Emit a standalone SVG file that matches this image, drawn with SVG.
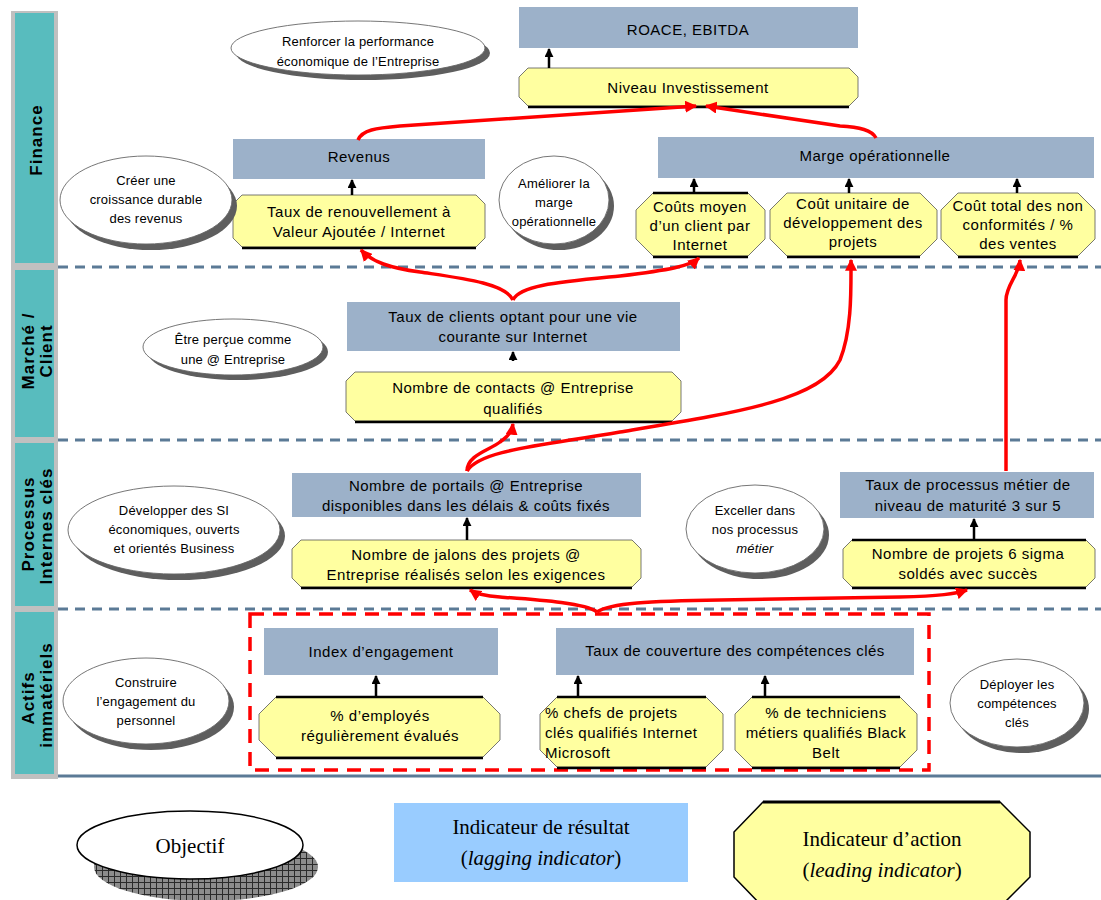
<svg xmlns="http://www.w3.org/2000/svg" width="1101" height="900" viewBox="0 0 1101 900">
<style>
.band{fill:#58bcbe}
.bl{font-family:"Liberation Sans",Arial,sans-serif;font-weight:bold;font-size:17px;letter-spacing:1px;fill:#000;text-anchor:middle}
.res{fill:#9cb1c9}
.oct{fill:#ffffa0;stroke:#555;stroke-width:0.8}
.octb{stroke:#000;stroke-width:2.5;fill:none}
.t{font-family:"Liberation Sans",Arial,sans-serif;font-size:15px;letter-spacing:0.5px;fill:#000;text-anchor:middle}
.ts{font-family:"Liberation Sans",Arial,sans-serif;font-size:15px;letter-spacing:0.5px;fill:#000;text-anchor:start}
.te{font-family:"Liberation Sans",Arial,sans-serif;font-size:13px;letter-spacing:0.2px;fill:#000;text-anchor:middle}
.esh{fill:#5e5e5e}
.ell{fill:#fff;stroke:#666;stroke-width:0.9}
.sep{stroke:#5b7a96;stroke-width:3;stroke-dasharray:10 7;fill:none}
.red{stroke:#ff0000;stroke-width:3.5;fill:none;marker-end:url(#ra)}
.blk{stroke:#000;stroke-width:2.5;fill:none;marker-end:url(#ba)}
.lg{font-family:"Liberation Serif","Times New Roman",serif;font-size:21px;fill:#000;text-anchor:middle}
</style>
<defs>
<marker id="ra" viewBox="0 0 10 10" refX="9" refY="5" markerWidth="12" markerHeight="12" markerUnits="userSpaceOnUse" orient="auto">
<path d="M0,0 L10,5 L0,10 z" fill="#ff0000"/>
</marker>
<marker id="ba" viewBox="0 0 10 10" refX="9" refY="5" markerWidth="9" markerHeight="9" markerUnits="userSpaceOnUse" orient="auto">
<path d="M0,0 L10,5 L0,10 z" fill="#000"/>
</marker>
<pattern id="hatch" width="6" height="6" patternUnits="userSpaceOnUse">
<rect width="6" height="6" fill="#8c8c8c"/>
<path d="M0,0.5 H6 M0.5,0 V6" stroke="#2a2a2a" stroke-width="1"/>
</pattern>
</defs>
<rect width="1101" height="900" fill="#fff"/>

<g id="bands">
<rect x="11" y="11" width="47" height="768" fill="#c0c0c0"/>
<rect class="band" x="15" y="13" width="39" height="250"/>
<rect class="band" x="15" y="270" width="39" height="167"/>
<rect class="band" x="15" y="443" width="39" height="163"/>
<rect class="band" x="15" y="612" width="39" height="162"/>
<text class="bl" transform="translate(42,140) rotate(-90)">Finance</text>
<text class="bl" transform="translate(34,351) rotate(-90)">Marché /</text>
<text class="bl" transform="translate(52,351) rotate(-90)">Client</text>
<text class="bl" transform="translate(34,524) rotate(-90)">Processus</text>
<text class="bl" transform="translate(52,526) rotate(-90)">Internes clés</text>
<text class="bl" transform="translate(34,698) rotate(-90)">Actifs</text>
<text class="bl" transform="translate(52,695) rotate(-90)">immatériels</text>
</g>

<g id="separators">
<path class="sep" d="M58,267 H1101"/>
<path class="sep" d="M58,440 H1101"/>
<path class="sep" d="M58,609 H1101"/>
<path d="M58,776 H1101" stroke="#5b7a96" stroke-width="3"/>
</g>

<g id="roace"><rect class="res" x="519" y="7" width="339" height="41"/><text class="t" x="688" y="35">ROACE, EBITDA</text></g>
<g id="niveau"><polygon class="oct" points="528,68 849,68 858,77 858,97 849,106 528,106 519,97 519,77"/><path class="octb" d="M528,107 H849"/><text class="t" x="688" y="93">Niveau Investissement</text></g>
<g id="obj-renforcer"><ellipse class="esh" cx="363" cy="53" rx="127" ry="27"/><ellipse class="ell" cx="358" cy="48" rx="127" ry="27"/><text class="te" x="358" y="46">Renforcer la performance</text><text class="te" x="358" y="66">économique de l’Entreprise</text></g>

<g id="revenus"><rect class="res" x="233" y="139" width="252" height="40"/><text class="t" x="359" y="162">Revenus</text></g>
<g id="taux-renouv"><polygon class="oct" points="242,195 476,195 485,204 485,238 476,247 242,247 233,238 233,204"/><path class="octb" d="M242,248 H476"/><text class="t" x="359" y="217">Taux de renouvellement à</text><text class="t" x="359" y="237">Valeur Ajoutée / Internet</text></g>
<g id="obj-creer"><ellipse class="esh" cx="151" cy="206" rx="86" ry="44"/><ellipse class="ell" cx="146" cy="200" rx="86" ry="44"/><text class="te" x="146" y="185">Créer une</text><text class="te" x="146" y="204">croissance durable</text><text class="te" x="146" y="223">des revenus</text></g>
<g id="obj-ameliorer"><ellipse class="esh" cx="559" cy="206" rx="55" ry="44"/><ellipse class="ell" cx="554" cy="200" rx="55" ry="44"/><text class="te" x="554" y="188">Améliorer la</text><text class="te" x="554" y="207">marge</text><text class="te" x="554" y="226">opérationnelle</text></g>
<g id="marge"><rect class="res" x="658" y="137" width="436" height="41"/><text class="t" x="875" y="161">Marge opérationnelle</text></g>
<g id="couts-moyen"><polygon class="oct" points="653,193 748,193 765,210 765,239 748,256 653,256 636,239 636,210"/><path class="octb" d="M653,257 H748 M653,193 H748"/><text class="t" x="700" y="212">Coûts moyen</text><text class="t" x="700" y="231">d’un client par</text><text class="t" x="700" y="250">Internet</text></g>
<g id="cout-unitaire"><polygon class="oct" points="787,193 920,193 937,210 937,239 920,256 787,256 770,239 770,210"/><path class="octb" d="M787,257 H920"/><text class="t" x="853" y="209">Coût unitaire de</text><text class="t" x="853" y="228">développement des</text><text class="t" x="853" y="247">projets</text></g>
<g id="cout-total"><polygon class="oct" points="958,193 1078,193 1095,210 1095,239 1078,256 958,256 941,239 941,210"/><path class="octb" d="M958,257 H1078"/><text class="t" x="1018" y="211">Coût total des non</text><text class="t" x="1018" y="230">conformités / %</text><text class="t" x="1018" y="249">des ventes</text></g>

<g id="obj-percue"><ellipse class="esh" cx="238" cy="352" rx="90" ry="28"/><ellipse class="ell" cx="233" cy="347" rx="90" ry="28"/><text class="te" x="233" y="344">Être perçue comme</text><text class="te" x="233" y="364">une @ Entreprise</text></g>
<g id="taux-clients"><rect class="res" x="347" y="302" width="333" height="49"/><text class="t" x="513" y="322">Taux de clients optant pour une vie</text><text class="t" x="513" y="342">courante sur Internet</text></g>
<g id="nb-contacts"><polygon class="oct" points="355,372 672,372 681,381 681,412 672,421 355,421 346,412 346,381"/><path class="octb" d="M355,422 H672"/><text class="t" x="513" y="393">Nombre de contacts @ Entreprise</text><text class="t" x="513" y="414">qualifiés</text></g>

<g id="obj-developper"><ellipse class="esh" cx="179" cy="536" rx="106" ry="44"/><ellipse class="ell" cx="174" cy="530" rx="106" ry="44"/><text class="te" x="174" y="515">Développer des SI</text><text class="te" x="174" y="534">économiques, ouverts</text><text class="te" x="174" y="553">et orientés Business</text></g>
<g id="portails"><rect class="res" x="292" y="473" width="349" height="44"/><text class="t" x="466" y="491">Nombre de portails @ Entreprise</text><text class="t" x="466" y="511">disponibles dans les délais &amp; coûts fixés</text></g>
<g id="jalons"><polygon class="oct" points="301,540 632,540 641,549 641,578 632,587 301,587 292,578 292,549"/><path class="octb" d="M301,588 H632"/><text class="t" x="466" y="560">Nombre de jalons des projets @</text><text class="t" x="466" y="580">Entreprise réalisés selon les exigences</text></g>
<g id="obj-exceller"><ellipse class="esh" cx="760" cy="535" rx="69" ry="44"/><ellipse class="ell" cx="755" cy="529" rx="69" ry="44"/><text class="te" x="755" y="515">Exceller dans</text><text class="te" x="755" y="534">nos processus</text><text class="te" x="755" y="553" font-style="italic">métier</text></g>
<g id="taux-processus"><rect class="res" x="840" y="472" width="254" height="46"/><text class="t" x="968" y="490">Taux de processus métier de</text><text class="t" x="968" y="511">niveau de maturité 3 sur 5</text></g>
<g id="six-sigma"><polygon class="oct" points="852,540 1086,540 1095,549 1095,578 1086,587 852,587 843,578 843,549"/><path class="octb" d="M852,588 H1086 M852,540 H1086"/><text class="t" x="968" y="559">Nombre de projets 6 sigma</text><text class="t" x="968" y="579">soldés avec succès</text></g>

<g id="obj-construire"><ellipse class="esh" cx="151" cy="707" rx="83" ry="43"/><ellipse class="ell" cx="146" cy="701" rx="83" ry="43"/><text class="te" x="146" y="687">Construire</text><text class="te" x="146" y="706">l’engagement du</text><text class="te" x="146" y="725">personnel</text></g>
<g id="zone-actifs"><rect x="250" y="614" width="679" height="156" fill="none" stroke="#ff0000" stroke-width="3.5" stroke-dasharray="14 9"/></g>
<g id="index"><rect class="res" x="264" y="628" width="234" height="47"/><text class="t" x="381" y="657">Index d’engagement</text></g>
<g id="employes"><polygon class="oct" points="276,697 483,697 500,714 500,740 483,757 276,757 259,740 259,714"/><path class="octb" d="M276,758 H483 M276,697 H483"/><text class="t" x="380" y="721">% d’employés</text><text class="t" x="380" y="741">régulièrement évalués</text></g>
<g id="couverture"><rect class="res" x="556" y="628" width="358" height="47"/><text class="t" x="735" y="656">Taux de couverture des compétences clés</text></g>
<g id="chefs"><polygon class="oct" points="557,697 706,697 723,714 723,750 706,767 557,767 540,750 540,714"/><path class="octb" d="M557,768 H706 M557,697 H706"/><text class="ts" x="545" y="718">% chefs de projets</text><text class="ts" x="545" y="738">clés qualifiés Internet</text><text class="ts" x="545" y="758">Microsoft</text></g>
<g id="techniciens"><polygon class="oct" points="752,697 900,697 917,714 917,750 900,767 752,767 735,750 735,714"/><path class="octb" d="M752,768 H900 M752,697 H900"/><text class="t" x="826" y="718">% de techniciens</text><text class="t" x="826" y="738">métiers qualifiés Black</text><text class="t" x="826" y="758">Belt</text></g>
<g id="obj-deployer"><ellipse class="esh" cx="1022" cy="709" rx="67" ry="44"/><ellipse class="ell" cx="1017" cy="703" rx="67" ry="44"/><text class="te" x="1017" y="689">Déployer les</text><text class="te" x="1017" y="708">compétences</text><text class="te" x="1017" y="727">clés</text></g>

<g id="connectors">
<path class="blk" d="M549,68 V49"/>
<path class="blk" d="M352,195 V180"/>
<path class="blk" d="M694,193 V179"/>
<path class="blk" d="M849,193 V179"/>
<path class="blk" d="M1017,193 V179"/>
<path class="blk" d="M513,361 V352"/>
<path class="blk" d="M467,540 V518"/>
<path class="blk" d="M974,540 V519"/>
<path class="blk" d="M376,697 V676"/>
<path class="blk" d="M578,697 V676"/>
<path class="blk" d="M765,697 V676"/>
<path class="red" d="M358,140 C362,130 376,128 400,126 L696,106"/>
<path class="red" d="M876,138 C872,130 860,127 840,126 L706,106"/>
<path class="red" d="M513,300 C505,283 460,278 420,272 C390,268 372,262 361,250"/>
<path class="red" d="M513,300 C520,285 560,282 620,276 C670,270 690,266 699,258"/>
<path class="red" d="M467,471 C467,455 490,450 500,442 C508,436 512,432 513,424"/>
<path class="red" d="M467,471 C480,450 540,446 620,432 C740,412 820,400 840,360 C852,330 851,290 851,260"/>
<path class="red" d="M1006,471 L1006,300 C1006,285 1019,275 1020,260"/>
<path class="red" d="M597,612 C585,603 540,600 500,597 C485,596 476,594 470,590"/>
<path class="red" d="M597,612 C610,603 650,601 720,600 L900,597 C940,596 955,594 967,590"/>
</g>

<g id="legend-objectif"><ellipse cx="206" cy="867" rx="112" ry="34" fill="url(#hatch)"/><ellipse cx="190" cy="845" rx="113" ry="34" fill="#fff" stroke="#000" stroke-width="1.5"/><text class="lg" x="190" y="853">Objectif</text></g>
<g id="legend-resultat"><rect x="394" y="803" width="294" height="79" fill="#99ccff"/><text class="lg" x="541" y="834">Indicateur de résultat</text><text class="lg" x="541" y="865">(<tspan font-style="italic">lagging indicator</tspan>)</text></g>
<g id="legend-action"><polygon points="763,802 1000,802 1030,832 1030,877 1000,907 763,907 734,877 734,832" fill="#ffffa0" stroke="#000" stroke-width="1.5"/><path d="M763,802 H1000" stroke="#000" stroke-width="3"/><text class="lg" x="882" y="846">Indicateur d’action</text><text class="lg" x="882" y="877">(<tspan font-style="italic">leading indicator</tspan>)</text></g>
</svg>
